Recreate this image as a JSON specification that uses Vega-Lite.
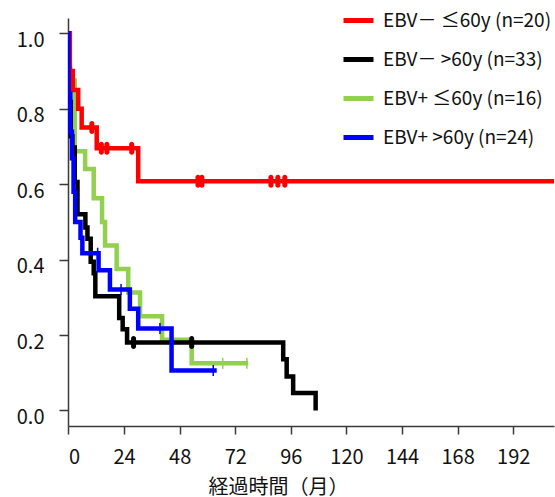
{
  "$schema": "https://vega.github.io/schema/vega-lite/v6.json",
  "width": 486,
  "height": 408,
  "autosize": {"type": "none"},
  "padding": {"left": 68, "top": 18, "right": 1, "bottom": 71},
  "background": "white",
  "config": {
    "view": {"stroke": null},
    "font": "Noto Sans CJK JP",
    "axis": {"grid": false, "domainColor": "#3a3a3a", "domainWidth": 1.5, "tickColor": "#3a3a3a", "tickWidth": 1.5, "labelColor": "#111", "labelFont": "Noto Sans CJK JP", "titleFont": "Noto Sans CJK JP", "titleColor": "#111", "titleFontWeight": "normal"}
  },
  "datasets": {
    "curves": [
      {"group": "EBV+ ≤60y (n=16)", "t": 0, "s": 1.0},
      {"group": "EBV+ ≤60y (n=16)", "t": 0.7, "s": 0.875},
      {"group": "EBV+ ≤60y (n=16)", "t": 2.7, "s": 0.6875},
      {"group": "EBV+ ≤60y (n=16)", "t": 7.2, "s": 0.64},
      {"group": "EBV+ ≤60y (n=16)", "t": 10.9, "s": 0.5625},
      {"group": "EBV+ ≤60y (n=16)", "t": 14.5, "s": 0.5},
      {"group": "EBV+ ≤60y (n=16)", "t": 15.8, "s": 0.4375},
      {"group": "EBV+ ≤60y (n=16)", "t": 20.8, "s": 0.375},
      {"group": "EBV+ ≤60y (n=16)", "t": 25.8, "s": 0.3125},
      {"group": "EBV+ ≤60y (n=16)", "t": 30.9, "s": 0.25},
      {"group": "EBV+ ≤60y (n=16)", "t": 40.4, "s": 0.1875},
      {"group": "EBV+ ≤60y (n=16)", "t": 53.2, "s": 0.125},
      {"group": "EBV+ ≤60y (n=16)", "t": 77.6, "s": 0.125},
      {"group": "EBV－ >60y (n=33)", "t": 0, "s": 1.0},
      {"group": "EBV－ >60y (n=33)", "t": 0.3, "s": 0.909},
      {"group": "EBV－ >60y (n=33)", "t": 0.6, "s": 0.818},
      {"group": "EBV－ >60y (n=33)", "t": 1.0, "s": 0.727},
      {"group": "EBV－ >60y (n=33)", "t": 1.7, "s": 0.697},
      {"group": "EBV－ >60y (n=33)", "t": 2.7, "s": 0.606},
      {"group": "EBV－ >60y (n=33)", "t": 3.9, "s": 0.52},
      {"group": "EBV－ >60y (n=33)", "t": 7.3, "s": 0.485},
      {"group": "EBV－ >60y (n=33)", "t": 8.2, "s": 0.455},
      {"group": "EBV－ >60y (n=33)", "t": 9.6, "s": 0.394},
      {"group": "EBV－ >60y (n=33)", "t": 10.9, "s": 0.364},
      {"group": "EBV－ >60y (n=33)", "t": 11.6, "s": 0.303},
      {"group": "EBV－ >60y (n=33)", "t": 21.9, "s": 0.245},
      {"group": "EBV－ >60y (n=33)", "t": 23.4, "s": 0.215},
      {"group": "EBV－ >60y (n=33)", "t": 25.3, "s": 0.18},
      {"group": "EBV－ >60y (n=33)", "t": 92.7, "s": 0.136},
      {"group": "EBV－ >60y (n=33)", "t": 94.2, "s": 0.09},
      {"group": "EBV－ >60y (n=33)", "t": 97.0, "s": 0.046},
      {"group": "EBV－ >60y (n=33)", "t": 106.7, "s": 0.0},
      {"group": "EBV－ ≤60y (n=20)", "t": 0, "s": 1.0},
      {"group": "EBV－ ≤60y (n=20)", "t": 0.5, "s": 0.9},
      {"group": "EBV－ ≤60y (n=20)", "t": 1.9, "s": 0.85},
      {"group": "EBV－ ≤60y (n=20)", "t": 4.2, "s": 0.8},
      {"group": "EBV－ ≤60y (n=20)", "t": 5.7, "s": 0.75},
      {"group": "EBV－ ≤60y (n=20)", "t": 12.2, "s": 0.695},
      {"group": "EBV－ ≤60y (n=20)", "t": 30.1, "s": 0.608},
      {"group": "EBV－ ≤60y (n=20)", "t": 215, "s": 0.608},
      {"group": "EBV+ >60y (n=24)", "t": 0, "s": 1.0},
      {"group": "EBV+ >60y (n=24)", "t": 0.05, "s": 0.84},
      {"group": "EBV+ >60y (n=24)", "t": 0.8, "s": 0.739},
      {"group": "EBV+ >60y (n=24)", "t": 1.5, "s": 0.669},
      {"group": "EBV+ >60y (n=24)", "t": 2.2, "s": 0.58},
      {"group": "EBV+ >60y (n=24)", "t": 2.9, "s": 0.5},
      {"group": "EBV+ >60y (n=24)", "t": 5.2, "s": 0.458},
      {"group": "EBV+ >60y (n=24)", "t": 6.0, "s": 0.417},
      {"group": "EBV+ >60y (n=24)", "t": 13.0, "s": 0.372},
      {"group": "EBV+ >60y (n=24)", "t": 17.9, "s": 0.321},
      {"group": "EBV+ >60y (n=24)", "t": 26.5, "s": 0.27},
      {"group": "EBV+ >60y (n=24)", "t": 30.1, "s": 0.217},
      {"group": "EBV+ >60y (n=24)", "t": 44.5, "s": 0.106},
      {"group": "EBV+ >60y (n=24)", "t": 64.0, "s": 0.106}
    ],
    "censors": [
      {"group": "EBV－ ≤60y (n=20)", "t": 10.1, "s": 0.75},
      {"group": "EBV－ ≤60y (n=20)", "t": 14.2, "s": 0.695},
      {"group": "EBV－ ≤60y (n=20)", "t": 16.6, "s": 0.695},
      {"group": "EBV－ ≤60y (n=20)", "t": 27.3, "s": 0.695},
      {"group": "EBV－ ≤60y (n=20)", "t": 55.9, "s": 0.608},
      {"group": "EBV－ ≤60y (n=20)", "t": 57.6, "s": 0.608},
      {"group": "EBV－ ≤60y (n=20)", "t": 87.4, "s": 0.608},
      {"group": "EBV－ ≤60y (n=20)", "t": 90.4, "s": 0.608},
      {"group": "EBV－ ≤60y (n=20)", "t": 93.4, "s": 0.608},
      {"group": "EBV－ >60y (n=33)", "t": 28.1, "s": 0.18},
      {"group": "EBV－ >60y (n=33)", "t": 53.2, "s": 0.18},
      {"group": "EBV+ ≤60y (n=16)", "t": 66.6, "s": 0.125},
      {"group": "EBV+ ≤60y (n=16)", "t": 77.0, "s": 0.125},
      {"group": "EBV+ >60y (n=24)", "t": 12.6, "s": 0.417},
      {"group": "EBV+ >60y (n=24)", "t": 22.7, "s": 0.321},
      {"group": "EBV+ >60y (n=24)", "t": 39.5, "s": 0.217},
      {"group": "EBV+ >60y (n=24)", "t": 62.5, "s": 0.106}
    ]
  },
  "layer": [
    {
      "data": {"name": "curves"},
      "mark": {"type": "line", "interpolate": "step-after", "strokeWidth": 4.5, "clip": true, "strokeJoin": "miter", "strokeCap": "butt"},
      "encoding": {
        "x": {"field": "t", "type": "quantitative", "scale": {"domain": [-0.2, 209.6], "nice": false, "zero": false},
          "axis": {"values": [0, 24, 48, 72, 96, 120, 144, 168, 192], "tickSize": 8, "labelFontSize": 20, "labelPadding": 13, "title": "経過時間（月）", "titleFontSize": 20, "titleX": 210, "titleY": 51, "titleAnchor": "start", "titleAlign": "center", "titleBaseline": "top"}},
        "y": {"field": "s", "type": "quantitative", "scale": {"domain": [-0.0412, 1.0406], "nice": false, "zero": false},
          "axis": {"values": [0, 0.2, 0.4, 0.6, 0.8, 1.0], "format": ".1f", "tickSize": 9, "labelFontSize": 20, "labelPadding": 15, "labelOffset": 7, "title": null}},
        "color": {"field": "group", "type": "nominal",
          "scale": {"domain": ["EBV－ ≤60y (n=20)", "EBV－ >60y (n=33)", "EBV+ ≤60y (n=16)", "EBV+ >60y (n=24)"], "range": ["#ff0000", "#000000", "#92d050", "#0000ff"]},
          "legend": {"title": null, "orient": "none", "legendX": 273, "legendY": -15, "symbolType": "stroke", "symbolSize": 900, "symbolStrokeWidth": 5, "labelFontSize": 19, "labelOffset": 7, "labelColor": "#111", "labelFont": "Noto Sans CJK JP", "rowPadding": 11, "padding": 0, "labelLimit": 300}},
        "order": {"field": "t", "type": "quantitative"}
      }
    },
    {
      "data": {"name": "censors"},
      "transform": [{"filter": {"field": "group", "oneOf": ["EBV－ ≤60y (n=20)", "EBV－ >60y (n=33)"]}}],
      "mark": {"type": "tick", "orient": "vertical", "thickness": 5, "size": 13, "cornerRadius": 2.5, "opacity": 1},
      "encoding": {
        "x": {"field": "t", "type": "quantitative"},
        "y": {"field": "s", "type": "quantitative"},
        "color": {"field": "group", "type": "nominal"}
      }
    },
    {
      "data": {"name": "censors"},
      "transform": [{"filter": {"field": "group", "oneOf": ["EBV+ ≤60y (n=16)", "EBV+ >60y (n=24)"]}}],
      "mark": {"type": "tick", "orient": "vertical", "thickness": 1.5, "size": 11, "opacity": 1},
      "encoding": {
        "x": {"field": "t", "type": "quantitative"},
        "y": {"field": "s", "type": "quantitative"},
        "color": {"field": "group", "type": "nominal"}
      }
    }
  ]
}
